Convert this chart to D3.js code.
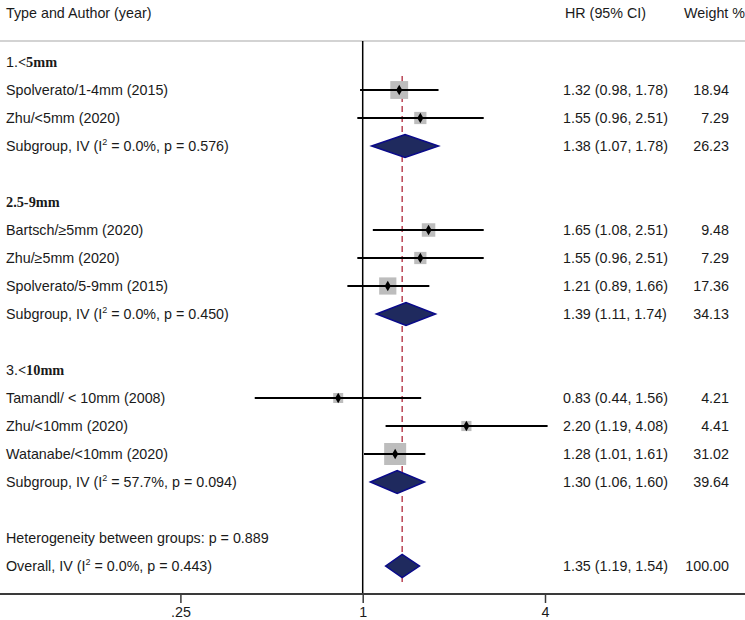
<!DOCTYPE html>
<html>
<head>
<meta charset="utf-8">
<script src="https://cdn.jsdelivr.net/npm/d3@7"></script>
<style>
  html, body { margin: 0; padding: 0; background: #fff; }
  svg { display: block; }
  text { font-family: "Liberation Sans", Arial, sans-serif; font-size: 14.3px; fill: #1a1a1a; }
</style>
</head>
<body>
<script>
// ---------------- data ----------------
const groupPrefixes = ["1.", "2.", "3."];
const groupNames = ["<5mm", "5-9mm", "<10mm"];
const groupRows = [0, 5, 11];

const studyNames = [
  "Spolverato/1-4mm (2015)", "Zhu/<5mm (2020)",
  "Bartsch/\u22655mm (2020)", "Zhu/\u22655mm (2020)", "Spolverato/5-9mm (2015)",
  "Tamandl/ < 10mm (2008)", "Zhu/<10mm (2020)", "Watanabe/<10mm (2020)"
];
const studyRows = [1, 2, 6, 7, 8, 12, 13, 14];
const studyHR = [1.32, 1.55, 1.65, 1.55, 1.21, 0.83, 2.20, 1.28];
const studyLo = [0.98, 0.96, 1.08, 0.96, 0.89, 0.44, 1.19, 1.01];
const studyHi = [1.78, 2.51, 2.51, 2.51, 1.66, 1.56, 4.08, 1.61];
const studyWeight = [18.94, 7.29, 9.48, 7.29, 17.36, 4.21, 4.41, 31.02];

const subI2 = ["0.0%", "0.0%", "57.7%"];
const subP = ["0.576", "0.450", "0.094"];
const subRows = [3, 9, 15];
const subHR = [1.38, 1.39, 1.30];
const subLo = [1.07, 1.11, 1.06];
const subHi = [1.78, 1.74, 1.60];
const subWeight = [26.23, 34.13, 39.64];

const hetText = "Heterogeneity between groups: p = 0.889";
const hetRow = 17;
const overallRow = 18;
const overallI2 = "0.0%";
const overallP = "0.443";
const overallHR = 1.35;
const overallLo = 1.19;
const overallHi = 1.54;
const overallWeight = 100.00;

const tickValues = [0.25, 1, 4];
const tickLabels = [".25", "1", "4"];

// ---------------- layout ----------------
const W = 745, H = 620;
const svg = d3.select("body").append("svg").attr("width", W).attr("height", H);

const x = d3.scaleLog().base(2).domain([0.25, 4]).range([180.4, 545]);
const y = d3.scaleLinear().domain([0, 18]).range([62, 566]);
const side = d3.scaleSqrt().domain([0, d3.max(studyWeight)]).range([3, 22]);
const fmt2 = d3.format(".2f");
const axisY = 594;
const topY = 41;
const xLabel = 6, xHR = 563, xW = 729;

// header
svg.append("text").attr("x", xLabel).attr("y", 18).text("Type and Author (year)");
svg.append("text").attr("x", 565).attr("y", 18).text("HR (95% CI)");
svg.append("text").attr("x", 745).attr("y", 18).attr("text-anchor", "end").text("Weight %");

// top rule
svg.append("line").attr("x1", 0).attr("x2", W).attr("y1", topY).attr("y2", topY)
  .attr("stroke", "#c4c4c4").attr("stroke-width", 1.5);

// null line
svg.append("line").attr("x1", x(1)).attr("x2", x(1)).attr("y1", topY).attr("y2", axisY)
  .attr("stroke", "#000").attr("stroke-width", 1.5);

// overall dashed line
svg.append("line").attr("x1", x(overallHR)).attr("x2", x(overallHR))
  .attr("y1", y(1) - 14).attr("y2", y(overallRow) + 18)
  .attr("stroke", "#b0283a").attr("stroke-width", 1.3).attr("stroke-dasharray", "6,4");

// group headings
groupRows.forEach((r, i) => {
  const t = svg.append("text").attr("x", xLabel).attr("y", y(r) + 5);
  if (i === 1) {
    t.append("tspan").attr("font-family", "'Liberation Serif', 'Times New Roman', serif")
      .attr("font-weight", "bold").text(groupPrefixes[i] + groupNames[i]);
  } else {
    t.append("tspan").text(groupPrefixes[i]);
    t.append("tspan").attr("font-family", "'Liberation Serif', 'Times New Roman', serif")
      .attr("font-weight", "bold").text(groupNames[i]);
  }
});

// studies
const diamondSym = d3.symbol().type(d3.symbolDiamond).size(32);
studyNames.forEach((name, i) => {
  const cy = y(studyRows[i]);
  svg.append("text").attr("x", xLabel).attr("y", cy + 5).text(name);
  svg.append("text").attr("x", xHR).attr("y", cy + 5)
    .text(`${fmt2(studyHR[i])} (${fmt2(studyLo[i])}, ${fmt2(studyHi[i])})`);
  svg.append("text").attr("x", xW).attr("y", cy + 5).attr("text-anchor", "end")
    .text(fmt2(studyWeight[i]));
  const s = side(studyWeight[i]);
  svg.append("rect").attr("x", x(studyHR[i]) - s / 2).attr("y", cy - s / 2)
    .attr("width", s).attr("height", s).attr("fill", "#bdbdbd");
  svg.append("line").attr("x1", x(studyLo[i])).attr("x2", x(studyHi[i]))
    .attr("y1", cy).attr("y2", cy).attr("stroke", "#000").attr("stroke-width", 2);
  svg.append("path").attr("d", diamondSym).attr("transform", `translate(${x(studyHR[i])},${cy})`)
    .attr("fill", "#000");
});

function labelWithI2(prefix, i2, p, cy) {
  const t = svg.append("text").attr("x", xLabel).attr("y", cy + 5);
  t.append("tspan").text(prefix + " (I");
  t.append("tspan").attr("dy", -6).attr("font-size", 9).text("2");
  t.append("tspan").attr("dy", 6).text(` = ${i2}, p = ${p})`);
}

function drawDiamond(hr, lo, hi, cy) {
  const h = 11.5;
  const pts = [[x(lo), cy], [x(hr), cy - h], [x(hi), cy], [x(hr), cy + h]];
  svg.append("path").attr("d", d3.line()(pts) + "Z")
    .attr("fill", "#1f2a5e").attr("stroke", "#0a0a8a").attr("stroke-width", 1.5);
}

// subgroups
subRows.forEach((r, i) => {
  const cy = y(r);
  labelWithI2("Subgroup, IV", subI2[i], subP[i], cy);
  svg.append("text").attr("x", xHR).attr("y", cy + 5)
    .text(`${fmt2(subHR[i])} (${fmt2(subLo[i])}, ${fmt2(subHi[i])})`);
  svg.append("text").attr("x", xW).attr("y", cy + 5).attr("text-anchor", "end")
    .text(fmt2(subWeight[i]));
  drawDiamond(subHR[i], subLo[i], subHi[i], cy);
});

// heterogeneity
svg.append("text").attr("x", xLabel).attr("y", y(hetRow) + 5).text(hetText);

// overall
{
  const cy = y(overallRow);
  labelWithI2("Overall, IV", overallI2, overallP, cy);
  svg.append("text").attr("x", xHR).attr("y", cy + 5)
    .text(`${fmt2(overallHR)} (${fmt2(overallLo)}, ${fmt2(overallHi)})`);
  svg.append("text").attr("x", xW).attr("y", cy + 5).attr("text-anchor", "end")
    .text(fmt2(overallWeight));
  drawDiamond(overallHR, overallLo, overallHi, cy);
}

// axis
const axis = d3.axisBottom(x).tickValues(tickValues)
  .tickFormat((d, i) => tickLabels[i]).tickSizeInner(9).tickSizeOuter(0).tickPadding(4);
const gAxis = svg.append("g").attr("transform", `translate(0,${axisY})`).call(axis);
gAxis.select(".domain").remove();
gAxis.selectAll(".tick line").attr("stroke", "#3a3a3a").attr("stroke-width", 1.5);
gAxis.selectAll(".tick text").attr("font-size", 14.3).attr("font-family", "'Liberation Sans', Arial, sans-serif").attr("fill", "#1a1a1a");
svg.append("line").attr("x1", 0).attr("x2", W).attr("y1", axisY).attr("y2", axisY)
  .attr("stroke", "#3a3a3a").attr("stroke-width", 2);
</script>
</body>
</html>
